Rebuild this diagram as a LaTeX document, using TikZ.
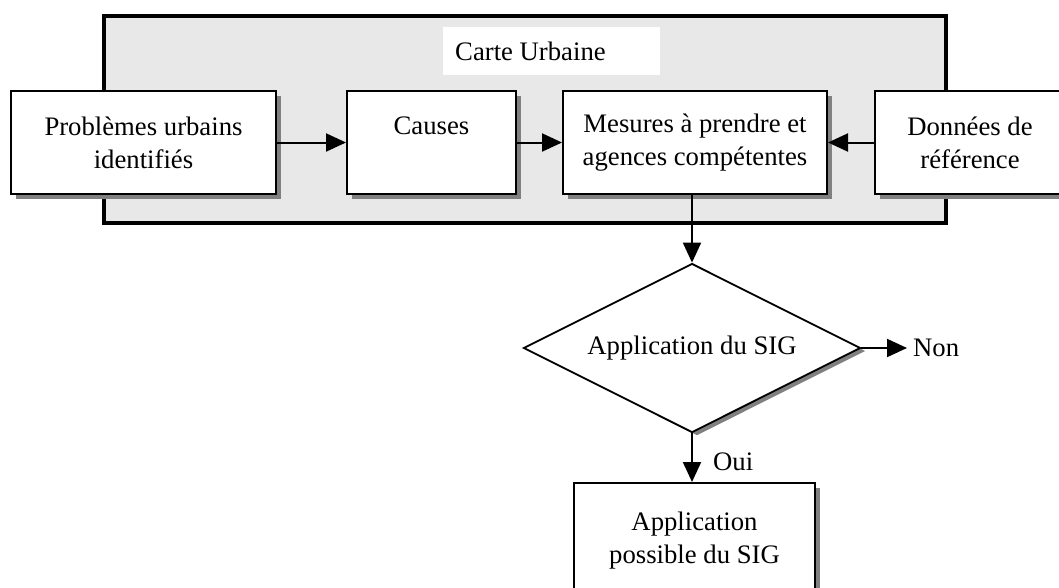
\documentclass[tikz,border=0pt]{standalone}
\usepackage{fontspec}
\setmainfont{Liberation Serif}
\usetikzlibrary{arrows.meta,shapes.geometric,shadows}
\tikzset{
  txt/.style={font=\fontsize{26.7}{33}\selectfont},
  boxshape/.style={txt, draw, line width=2pt, fill=white, align=center, inner sep=0pt,
    drop shadow={shadow xshift=5pt, shadow yshift=-5pt, fill=black!50, opacity=1}},
  arr/.style={line width=2pt, -{Triangle[length=20pt,width=18pt]}},
}
\begin{document}
\begin{tikzpicture}[x=1pt,y=-1pt]
\useasboundingbox (0,0) rectangle (1059,587);
\clip (0,0) rectangle (1059,587);
% container
\node[draw, line width=3.5pt, fill=black!9, minimum width=842pt, minimum height=207pt, inner sep=0pt] (cadre) at (525,119.5) {};
\node[fill=white, anchor=west, minimum height=48pt, minimum width=217pt, inner sep=0pt,
  label={[txt, anchor=west, inner xsep=12pt, inner ysep=0pt]west:Carte Urbaine}] (titre) at (443,51) {};
% boxes
\node[boxshape, minimum width=265pt, minimum height=103pt] (b1) at (143.5,142.5) {Problèmes urbains\\identifiés};
\node[boxshape, minimum width=169pt, minimum height=103pt] (b2) at (431.5,142.5) {Causes\\\mbox{}};
\node[boxshape, minimum width=264pt, minimum height=103pt] (b3) at (695,142.5) {Mesures à prendre et\\agences compétentes};
\node[boxshape, minimum width=190pt, minimum height=103pt] (b4) at (970,142.5) {Données de\\référence};
% decision
\node[txt, diamond, aspect=2, draw, line width=1.8pt, fill=white, minimum width=337pt, minimum height=169pt, inner sep=0pt,
  drop shadow={shadow xshift=5pt, shadow yshift=-3pt, fill=black!50, opacity=1}] (d) at (692,348) {Application du SIG};
\node[txt, anchor=west, inner xsep=6pt, inner ysep=0pt] (non) at (907,348) {Non};
\node[boxshape, minimum width=241pt, minimum height=116pt] (b5) at (694.5,541) {Application\\possible du SIG};
\node[txt, anchor=west, inner sep=0pt] (oui) at (713,462) {Oui};
% connectors
\draw[arr] (b1) -- (b2);
\draw[arr] (b2) -- (b3);
\draw[arr] (b4) -- (b3);
\draw[arr] (b3.south -| d.north) -- (d.north);
\draw[arr] (d.east) -- (non.west);
\draw[arr] (d.south) -- (d.south |- b5.north);
\end{tikzpicture}
\end{document}
